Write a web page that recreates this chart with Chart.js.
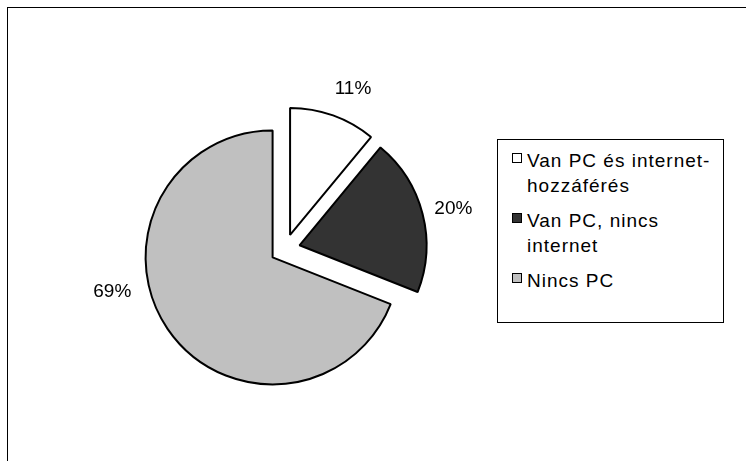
<!DOCTYPE html>
<html>
<head>
<meta charset="utf-8">
<script src="https://cdn.jsdelivr.net/npm/chart.js@4"></script>
<style>
  html, body { margin: 0; padding: 0; background: #fff; }
  #wrap { position: relative; width: 746px; height: 461px; overflow: hidden; }
  #frame { position: absolute; left: 7px; top: 7px; width: 800px; height: 500px; border: 1.5px solid #000; box-sizing: border-box; }
  canvas { position: absolute; left: 0; top: 0; }
  #legend {
    position: absolute; left: 497px; top: 139px; width: 227px; height: 184px;
    border: 1px solid #000; box-sizing: border-box; background: #fff;
    font-family: "Liberation Sans", Arial, sans-serif; font-size: 19px; letter-spacing: 1px; color: #000;
    padding: 8px 0 0 14px;
  }
  .item { display: flex; align-items: flex-start; margin-bottom: 10px; line-height: 25px; }
  .box { width: 8px; height: 8px; border: 1.5px solid #000; margin-top: 5px; margin-right: 5px; flex: none; }
</style>
</head>
<body>
<div id="wrap">
  <div id="frame"></div>
  <canvas id="pieChart" width="746" height="461"></canvas>
  <div id="legend"></div>
</div>
<script>
// Categories (legend text, one array entry per line)
const categories = [
  ['Van PC és internet-', 'hozzáférés'],
  ['Van PC, nincs', 'internet'],
  ['Nincs PC']
];
// Share of households, percent
const shares = [11, 20, 69];
const sliceColors = ['#ffffff', '#333333', '#c0c0c0'];

// pull every slice out from the centre by a fixed amount (like an exploded Excel pie)
const explode = {
  id: 'explode',
  beforeDatasetsDraw(chart, args, opts) {
    const area = chart.chartArea;
    const cx = (area.left + area.right) / 2;
    const cy = (area.top + area.bottom) / 2;
    chart.getDatasetMeta(0).data.forEach(arc => {
      const mid = (arc.startAngle + arc.endAngle) / 2;
      arc.x = cx + Math.cos(mid) * opts.amount;
      arc.y = cy + Math.sin(mid) * opts.amount;
    });
  }
};

// percent labels placed just outside each slice
const outsideLabels = {
  id: 'outsideLabels',
  afterDatasetsDraw(chart, args, opts) {
    const ctx = chart.ctx;
    const meta = chart.getDatasetMeta(0);
    ctx.save();
    ctx.font = '19px "Liberation Sans", Arial, sans-serif';
    ctx.fillStyle = '#000';
    ctx.textAlign = 'center';
    ctx.textBaseline = 'middle';
    meta.data.forEach((arc, i) => {
      const p = arc.getProps(['x', 'y', 'startAngle', 'endAngle', 'outerRadius']);
      const mid = (p.startAngle + p.endAngle) / 2 + (opts.angleShift[i] || 0) * Math.PI / 180;
      const r = p.outerRadius + opts.distance[i];
      ctx.fillText(shares[i] + '%', p.x + Math.cos(mid) * r, p.y + Math.sin(mid) * r);
    });
    ctx.restore();
  }
};

const ctx = document.getElementById('pieChart').getContext('2d');
const chart = new Chart(ctx, {
  type: 'pie',
  data: {
    labels: categories,
    datasets: [{
      data: shares,
      backgroundColor: sliceColors,
      borderColor: '#000',
      borderWidth: 2
    }]
  },
  options: {
    responsive: false,
    animation: false,
    radius: 127,
    layout: { padding: { left: 10, right: 186, top: 47, bottom: 10 } },
    plugins: {
      legend: { display: false },
      tooltip: { enabled: false },
      explode: { amount: 15 },
      outsideLabels: { distance: [32, 31, 37], angleShift: [3.5, 1.2, 22] }
    }
  },
  plugins: [explode, outsideLabels]
});

// legend with border, built from the same arrays
const legendEl = document.getElementById('legend');
categories.forEach((lines, i) => {
  const item = document.createElement('div');
  item.className = 'item';
  const box = document.createElement('div');
  box.className = 'box';
  box.style.background = sliceColors[i];
  const txt = document.createElement('div');
  txt.innerHTML = lines.join('<br>');
  item.appendChild(box);
  item.appendChild(txt);
  legendEl.appendChild(item);
});
</script>
</body>
</html>
